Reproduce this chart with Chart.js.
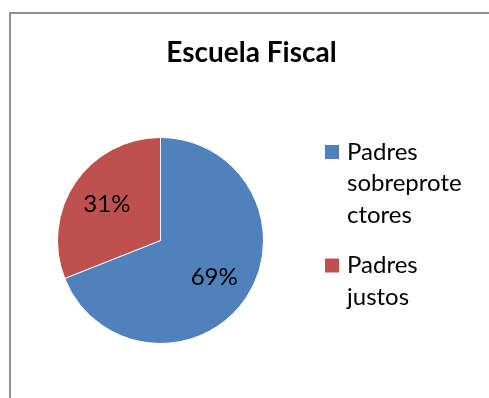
<!DOCTYPE html>
<html>
<head>
<meta charset="utf-8">
<script src="https://cdn.jsdelivr.net/npm/chart.js@4"></script>
<style>
  html, body { margin: 0; padding: 0; background: #fff; }
  #wrap { width: 489px; height: 398px; position: relative; }
</style>
</head>
<body>
<div id="wrap"><canvas id="pieChart" width="489" height="398"></canvas></div>
<script>
// Chart data
const titleText = 'Escuela Fiscal';
const categories = ['Padres sobreprotectores', 'Padres justos'];
const percentValues = [69, 31];
const sliceColors = ['#4F81BD', '#C0504D'];

const fontFamily = 'Lato, "Open Sans", sans-serif';

// Break a label into lines that fit maxWidth (splits long words too, like Excel)
function wrapLabel(ctx, text, maxWidth) {
    const lines = [];
    text.split(' ').forEach(word => {
        let rest = word;
        while (ctx.measureText(rest).width > maxWidth) {
            let n = rest.length;
            while (n > 1 && ctx.measureText(rest.slice(0, n)).width > maxWidth) n--;
            lines.push(rest.slice(0, n));
            rest = rest.slice(n);
        }
        lines.push(rest);
    });
    return lines;
}

// Grey chart-area frame (only left and top edges show in the crop)
const framePlugin = {
    id: 'frame',
    beforeDraw(chart) {
        const ctx = chart.ctx;
        ctx.save();
        ctx.fillStyle = '#8f8f8f';
        ctx.fillRect(9, 12, 2, chart.height - 12);
        ctx.fillRect(9, 12, chart.width - 9, 2);
        ctx.restore();
    }
};

const labelsPlugin = {
    id: 'customLabels',
    afterDraw(chart) {
        const ctx = chart.ctx;
        const meta = chart.getDatasetMeta(0);
        const data = chart.data.datasets[0].data;
        const total = data.reduce((a, b) => a + b, 0);

        ctx.save();
        // Title
        ctx.fillStyle = '#000';
        ctx.textAlign = 'center';
        ctx.textBaseline = 'alphabetic';
        ctx.font = 'bold 28px ' + fontFamily;
        ctx.fillText(titleText, 251.5, 62);

        // Percent labels inside slices
        ctx.textBaseline = 'middle';
        ctx.font = '24px ' + fontFamily;
        meta.data.forEach((arc, i) => {
            const angle = (arc.startAngle + arc.endAngle) / 2;
            const r = arc.outerRadius * 0.63;
            const x = arc.x + Math.cos(angle) * r;
            const y = arc.y + Math.sin(angle) * r;
            ctx.fillText(Math.round(data[i] / total * 100) + '%', x, y);
        });

        // Legend on the right
        ctx.textAlign = 'left';
        let y = 152;
        const lineH = 31.5;
        chart.data.labels.forEach((label, i) => {
            ctx.fillStyle = sliceColors[i];
            ctx.fillRect(325, y - 7, 14, 14);
            ctx.fillStyle = '#000';
            const lines = wrapLabel(ctx, label, 126);
            lines.forEach((line, k) => {
                ctx.fillText(line, 347, y + k * lineH);
            });
            y += lines.length * lineH + 19;
        });
        ctx.restore();
    }
};

new Chart(document.getElementById('pieChart').getContext('2d'), {
    type: 'pie',
    data: {
        labels: categories,
        datasets: [{
            data: percentValues,
            backgroundColor: sliceColors,
            borderColor: '#ffffff',
            borderWidth: 1
        }]
    },
    options: {
        responsive: false,
        animation: false,
        layout: { padding: { left: 57, right: 225, top: 137, bottom: 54 } },
        plugins: {
            legend: { display: false },
            title: { display: false },
            tooltip: { enabled: false }
        }
    },
    plugins: [framePlugin, labelsPlugin]
});
</script>
</body>
</html>
